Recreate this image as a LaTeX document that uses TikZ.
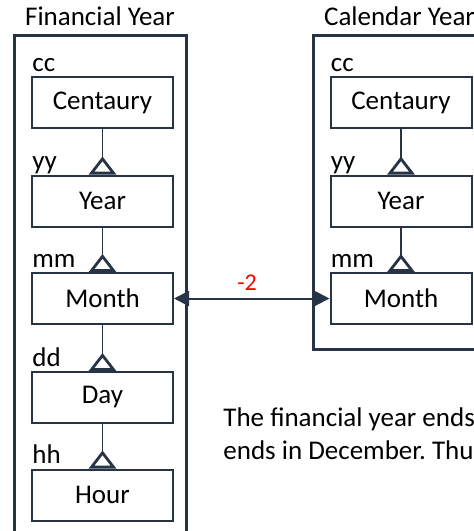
\documentclass[tikz,border=0pt]{standalone}
\usepackage{fontspec}
\setmainfont{Carlito}
\usetikzlibrary{arrows.meta,positioning}
\definecolor{slate}{HTML}{263445}

\begin{document}
\frenchspacing
\begin{tikzpicture}[x=0.5pt,y=-0.5pt,
	unit/.style={draw=slate, line width=1pt, minimum width=70.5pt, minimum height=25.5pt, inner sep=0pt, font=\fontsize{13.5}{16}\selectfont},
	frame/.style={draw=slate, line width=1.5pt, inner sep=0pt},
	heading/.style={anchor=base, inner sep=0pt, yshift=4pt, font=\fontsize{13.5}{16}\selectfont},
	code/.style={anchor=base west, inner sep=0pt, xshift=0.5pt, yshift=2.5pt, font=\fontsize{13.5}{16}\selectfont},
	rollup/.style={draw=slate, line width=0.6pt, -{Triangle[open, reversed, width=13.5pt, length=9pt, line width=1.4pt]}},
	offsetlink/.style={draw=slate, line width=1pt, {Triangle[width=7.5pt, length=7.5pt]}-{Triangle[width=7.5pt, length=7.5pt]}},
	]
	\useasboundingbox (0,0) rectangle (474,531);

	% Frames
	\node[frame, minimum width=86pt, minimum height=267.5pt] (finframe) at (100,302.5) {};
	\node[heading] (fintitle) at (finframe.north) {Financial Year};
	\node[frame, minimum width=86.5pt, minimum height=157pt] (calframe) at (399.5,192) {};
	\node[heading] (caltitle) at (calframe.north) {Calendar Year};

	% Financial year levels
	\node[unit] (fincent) at (102.5,102.5) {Centaury};
	\node[unit] (finyear) at (102.5,201) {Year};
	\node[unit] (finmonth) at (102.5,298.5) {Month};
	\node[unit] (finday) at (102.5,397.5) {Day};
	\node[unit] (finhour) at (102.5,495) {Hour};

	\node[code] (fincc) at (fincent.north west) {cc};
	\node[code] (finyy) at (finyear.north west) {yy};
	\node[code] (finmm) at (finmonth.north west) {mm};
	\node[code] (findd) at (finday.north west) {dd};
	\node[code] (finhh) at (finhour.north west) {hh};

	\draw[rollup] (fincent) -- (finyear);
	\draw[rollup] (finyear) -- (finmonth);
	\draw[rollup] (finmonth) -- (finday);
	\draw[rollup] (finday) -- (finhour);

	% Calendar year levels
	\node[unit] (calcent) at (401,102.5) {Centaury};
	\node[unit] (calyear) at (401,201) {Year};
	\node[unit] (calmonth) at (401,298.5) {Month};

	\node[code] (calcc) at (calcent.north west) {cc};
	\node[code] (calyy) at (calyear.north west) {yy};
	\node[code] (calmm) at (calmonth.north west) {mm};

	\draw[rollup] (calcent) -- (calyear);
	\draw[rollup] (calyear) -- (calmonth);

	% Month offset
	\draw[offsetlink] (finmonth.east) -- node[above=3.5pt, pos=0.47, inner sep=0pt, text=red, font=\fontsize{12}{14}\selectfont] (offset) {-2} (calmonth.west);

	% Note
	\node[anchor=base west, inner sep=0pt, font=\fontsize{13.5}{16}\selectfont] (noteA) at (223,426.7) {The financial year ends};
	\node[anchor=base west, inner sep=0pt, font=\fontsize{13.5}{16}\selectfont] (noteB) at (223,459) {ends in December. Thu};
\end{tikzpicture}
\end{document}
